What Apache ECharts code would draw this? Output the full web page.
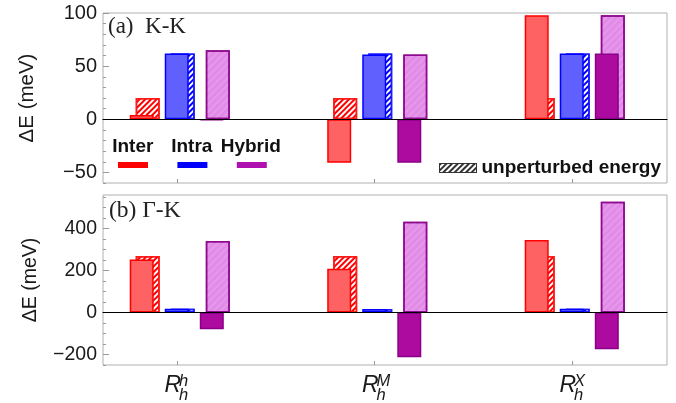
<!DOCTYPE html>
<html><head><meta charset="utf-8">
<script src="https://cdn.jsdelivr.net/npm/echarts@6/dist/echarts.min.js"></script>
<style>html,body{margin:0;padding:0;background:#fff}#c{width:676px;height:403px}</style>
</head><body><div id="c"></div>
<script>
// ---------- data ----------
const categories = ['R_h^h', 'R_h^M', 'R_h^X'];
const catSub = ['h', 'h', 'h'];
const catSup = ['h', 'M', 'X'];
const seriesNames = ['Inter', 'Intra', 'Hybrid'];
const unpertName = 'unperturbed energy';
// (a) K-K  (meV)
const interKK = [4, -41, 98];
const interKK0 = [20, 20, 20];
const intraKK = [62, 61, 62];
const intraKK0 = [62, 62, 62];
const hybridKK = [-1, -41, 62];
const hybridKK0 = [65, 61, 98];
// (b) Γ-K  (meV)
const interGK = [253, 209, 345];
const interGK0 = [269, 269, 269];
const intraGK = [18, 17, 18];
const intraGK0 = [18, 17, 18];
const hybridGK = [-80, -213, -175];
const hybridGK0 = [341, 433, 528];
// ticks
const ticksKK = [-50, 0, 50, 100];
const minorKK = [-60, -50, -40, -30, -20, -10, 0, 10, 20, 30, 40, 50, 60, 70, 80, 90, 100];
const ticksGK = [-200, 0, 200, 400];
const minorGK = [-250, -200, -150, -100, -50, 0, 50, 100, 150, 200, 250, 300, 350, 400, 450, 500, 550];

// ---------- styles ----------
const FONT = 'Liberation Sans, Arial, Helvetica, sans-serif';
const SERIF = 'Liberation Serif, Times New Roman, serif';
const TXT = '#1a1a1a';
const FRAME = '#b0b0b0';
const TICK = '#9a9a9a';
const sty = {
  Inter:  { fill: '#ff6262', border: '#ff0000', hFill: '#ffffff', hBorder: '#ff1a1a', hDecal: '#ff0000', legend: '#ff0000', dash: [2, 2] },
  Intra:  { fill: '#6060ff', border: '#0000ff', hFill: '#ffffff', hBorder: '#1a1aff', hDecal: '#0000ff', legend: '#0000ff', dash: [2, 2] },
  Hybrid: { fill: '#ad0aa0', border: '#8a0088', hFill: '#e28ae8', hBorder: '#8e0a8e', hDecal: 'rgba(255,255,255,0.13)', legend: '#b010b0', dash: [2, 3] }
};
function decal(color, dash) {
  return { symbol: 'rect', symbolSize: 1, dashArrayX: [1, 0], dashArrayY: dash || [2, 2], rotation: -Math.PI / 4, color: color };
}
const minusFmt = v => (v < 0 ? '\u2212' + Math.abs(v) : String(v));

const P = [
  { top: 13, height: 170, min: -60, max: 100, ticks: ticksKK, minor: minorKK, lblSize: 20, nameSize: 20.5, nameGap: 65,
    data: [[interKK, interKK0], [intraKK, intraKK0], [hybridKK, hybridKK0]], labels: false },
  { top: 195, height: 170, min: -250, max: 560, ticks: ticksGK, minor: minorGK, lblSize: 19.5, nameSize: 19.5, nameGap: 62,
    data: [[interGK, interGK0], [intraGK, intraGK0], [hybridGK, hybridGK0]], labels: true }
];

const Rstyle = (col) => ({ fontSize: 23, fontStyle: 'italic', fontFamily: FONT, color: col, verticalAlign: 'top', padding: [1, 0, 0, 0], width: 14.5, align: 'left' });
const smallStyle = (pad) => ({ fontSize: 16.5, fontStyle: 'italic', fontFamily: FONT, color: TXT, verticalAlign: 'top', padding: [pad, 0, 0, 0], width: 10, align: 'left' });

const grid = [], xAxis = [], yAxis = [], series = [];
P.forEach((p, k) => {
  const g0 = grid.length;
  grid.push({ left: 103, right: 9, top: p.top, height: p.height, show: true, borderColor: FRAME, borderWidth: 1, backgroundColor: 'transparent', outerBoundsMode: 'none' });
  grid.push({ left: 78, width: 592.5, top: p.top, height: p.height, outerBoundsMode: 'none' });
  grid.push({ left: 84, width: 592.5, top: p.top, height: p.height, outerBoundsMode: 'none' });
  // frame axes
  const y0 = yAxis.length;
  yAxis.push({ gridIndex: g0, type: 'value', min: p.min, max: p.max, position: 'left',
    axisLine: { show: false }, splitLine: { show: false },
    axisTick: { show: true, inside: true, length: 6, customValues: p.ticks, lineStyle: { color: TICK } },
    axisLabel: { customValues: p.ticks, formatter: minusFmt, fontSize: p.lblSize, color: TXT, fontFamily: FONT, margin: 6 },
    name: 'ΔE (meV)', nameLocation: 'middle', nameGap: p.nameGap, nameMoveOverlap: false,
    nameTextStyle: { fontSize: p.nameSize, fontFamily: FONT, color: TXT } });
  yAxis.push({ gridIndex: g0, type: 'value', min: p.min, max: p.max, position: 'left', offset: 0,
    axisLine: { show: false }, splitLine: { show: false }, axisLabel: { show: false },
    axisTick: { show: true, inside: true, length: 3, customValues: p.minor, lineStyle: { color: TICK } } });
  xAxis.push({ gridIndex: g0, type: 'value', min: 0, max: 1, z: 10,
    axisLine: { show: true, onZero: true, onZeroAxisIndex: y0, lineStyle: { color: '#000', width: 1.2 } },
    axisTick: { show: false }, axisLabel: { show: false }, splitLine: { show: false } });
  // solid grid axes
  const xs = xAxis.length;
  xAxis.push({ gridIndex: g0 + 1, type: 'category', data: categories,
    axisLine: { show: false, onZero: false },
    axisTick: { show: true, inside: true, alignWithLabel: true, length: 4, lineStyle: { color: TICK } },
    axisLabel: p.labels ? {
      show: true, interval: 0, margin: 8,
      formatter: (v, i) => '{R|R}{sub|' + catSub[i] + '}',
      rich: { R: Rstyle(TXT), sub: smallStyle(13.5) }
    } : { show: false } });
  if (p.labels) {
    xAxis.push({ gridIndex: g0 + 1, type: 'category', data: categories, position: 'bottom',
      axisLine: { show: false, onZero: false }, axisTick: { show: false },
      axisLabel: {
        show: true, interval: 0, margin: 8,
        formatter: (v, i) => '{R|R}{sup|' + catSup[i] + '}',
        rich: { R: Rstyle('rgba(0,0,0,0)'), sup: smallStyle(0) }
      } });
  }
  const ys = yAxis.length;
  yAxis.push({ gridIndex: g0 + 1, type: 'value', min: p.min, max: p.max, show: false, splitLine: { show: false } });
  const xh = xAxis.length;
  xAxis.push({ gridIndex: g0 + 2, type: 'category', data: categories, show: false });
  const yh = yAxis.length;
  yAxis.push({ gridIndex: g0 + 2, type: 'value', min: p.min, max: p.max, show: false, splitLine: { show: false } });

  seriesNames.forEach((n, j) => {
    const s = sty[n];
    series.push({ type: 'bar', name: unpertName, data: p.data[j][1], xAxisIndex: xh, yAxisIndex: yh,
      barWidth: 24, barGap: '46%', z: 2, silent: true,
      itemStyle: { color: s.hFill, borderColor: s.hBorder, borderWidth: 1.5, decal: decal(s.hDecal, s.dash) } });
  });
  seriesNames.forEach((n, j) => {
    const s = sty[n];
    series.push({ type: 'bar', name: n, data: p.data[j][0], xAxisIndex: xs, yAxisIndex: ys,
      barWidth: 24, barGap: '46%', z: 3, silent: true,
      itemStyle: { color: s.fill, borderColor: s.border, borderWidth: 1.5 } });
  });
});

const legendText = { fontFamily: FONT, fontWeight: 'bold', fontSize: 19, color: '#111' };
const option = {
  animation: false,
  backgroundColor: '#fff',
  title: [
    { text: '(a)  K-K', left: 108, top: 14, padding: 0, textStyle: { fontFamily: SERIF, fontSize: 23, fontWeight: 'normal', color: '#222', lineHeight: 26 } },
    { text: '(b) Γ-K', left: 109, top: 198, padding: 0, textStyle: { fontFamily: SERIF, fontSize: 23.5, fontWeight: 'normal', color: '#222', lineHeight: 26 } }
  ],
  legend: [
    { // names
      left: 96.8, top: 137, orient: 'horizontal', itemWidth: 0, itemHeight: 0, itemGap: -8, selectedMode: false, padding: 0,
      data: seriesNames.map(n => ({ name: n, itemStyle: { color: 'rgba(0,0,0,0)', borderWidth: 0 } })),
      formatter: n => '{c|' + n + '}',
      textStyle: Object.assign({ lineHeight: 20, rich: { c: Object.assign({ width: 62, align: 'center', lineHeight: 20 }, legendText) } }, legendText)
    },
    { // colour bars
      left: 118, top: 162, orient: 'horizontal', itemWidth: 30, itemHeight: 6, itemGap: 24.4, selectedMode: false, padding: 0,
      data: seriesNames.map(n => ({ name: n, icon: 'rect', itemStyle: { color: sty[n].legend, borderWidth: 0 } })),
      formatter: () => '',
      textStyle: { fontSize: 6, lineHeight: 6 }
    },
    { // unperturbed
      left: 439, top: 158, itemWidth: 37, itemHeight: 9, selectedMode: false, padding: 0,
      data: [{ name: unpertName, icon: 'rect', itemStyle: { color: '#fff', borderColor: '#333', borderWidth: 1, decal: decal('#333') } }],
      textStyle: Object.assign({ lineHeight: 20 }, legendText)
    }
  ],
  grid, xAxis, yAxis, series
};
const chart = echarts.init(document.getElementById('c'), null, { renderer: 'canvas' });
chart.setOption(option);
</script></body></html>
